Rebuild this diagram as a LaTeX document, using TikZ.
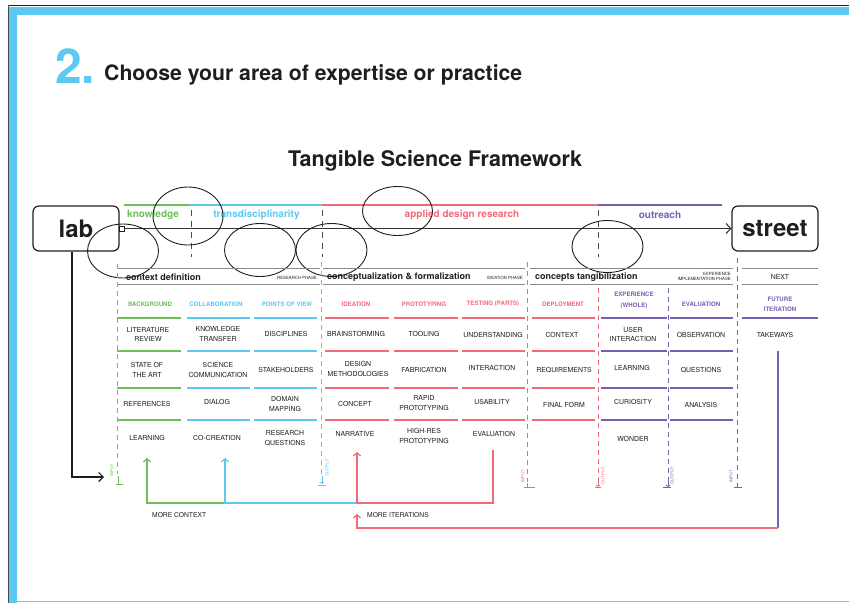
\documentclass[tikz,border=0pt]{standalone}
\usepackage{fontspec}
\setmainfont{TeX Gyre Heros}
\usetikzlibrary{arrows.meta}
\definecolor{cgreen}{HTML}{6EBE5A}
\definecolor{cblue}{HTML}{5AC8F0}
\definecolor{cred}{HTML}{F26A7A}
\definecolor{cpurple}{HTML}{785FB4}
\definecolor{fblue}{HTML}{5BC9F2}
\definecolor{ink}{HTML}{1E1E1E}
\definecolor{rule}{HTML}{8A8A8A}
\newcommand\tcell[4]{\node[cell] (#1) at (#2,#3) {#4};}
\newcommand\thdr[5]{\node[hdr,text=#5] (#1) at (#2,#3) {#4};}
\begin{document}
\begin{tikzpicture}[x=1pt,y=-1pt,
  cell/.style={font=\fontsize{6.9}{9.5}\selectfont, text=ink, align=center, inner sep=0},
  hdr/.style={font=\bfseries\fontsize{6.1}{10.5}\selectfont, align=center, inner sep=0},
  phase/.style={font=\bfseries\fontsize{9}{10}\selectfont, text=ink, inner sep=0, anchor=west},
  tiny/.style={font=\fontsize{4.3}{5.5}\selectfont, text=ink, inner sep=0, anchor=east, align=right},
  area/.style={font=\bfseries\fontsize{10}{12}\selectfont, inner sep=0},
  bigbox/.style={draw=ink, line width=1.2, rounded corners=6, minimum width=86, minimum height=45, font=\bfseries\fontsize{24}{26}\selectfont, text=ink, inner sep=0},
  circ/.style={draw=ink, line width=0.9},
  sep/.style={dash pattern=on 5pt off 4pt, line width=0.9},
  gsep/.style={draw=ink!80, dash pattern=on 6pt off 5pt, line width=0.8},
  prule/.style={draw=rule, line width=1.3},
  crule/.style={line width=1.2},
  loop/.style={line width=1.2},
  tipu/.style={-{Straight Barb[length=3pt,width=7pt]}},
  mlabel/.style={font=\fontsize{4.2}{4.5}\selectfont, inner sep=0, rotate=90},
  note/.style={font=\fontsize{6.7}{8}\selectfont, text=ink, inner sep=0, anchor=west}
]
\useasboundingbox (0,0) rectangle (849,603);
% frame
\fill[fblue] (9,6.5) rectangle (849,14.5);
\fill[fblue] (9,6.5) rectangle (16.5,603);
\draw[ink, line width=1] (8,5.5) -- (849,5.5);
\draw[ink!80, line width=0.8] (8.4,5) -- (8.4,603);
\draw[fblue, line width=1.6] (16,601.5) -- (849,601.5);

% headings
\node[font=\bfseries\fontsize{48}{48}\selectfont, text=fblue, inner sep=0, anchor=base west] (num) at (55,83) {2.};
\node[font=\bfseries\fontsize{21.2}{23}\selectfont, text=ink, inner sep=0, anchor=base west] (choose) at (104,80.5) {Choose your area of expertise or practice};
\node[font=\bfseries\fontsize{21.5}{23}\selectfont, text=ink, inner sep=0, anchor=base] (title) at (435,166) {Tangible Science Framework};

% lab / street
\node[bigbox] (lab) at (76,228.5) {lab};
\node[bigbox] (street) at (775,228.5) {street};
\node[draw=ink, line width=0.9, minimum size=5, inner sep=0] (sq) at (121.5,228.5) {};
\draw[ink!90, line width=1.1, -{Straight Barb[length=4.5pt,width=10pt]}] (sq.east) -- (street.west);

% area lines and labels
\draw[cgreen, line width=1.3] (124,205) -- (190,205);
\draw[cblue, line width=1.3] (190,205) -- (322,205);
\draw[cred, line width=1.3] (322,205) -- (598,205);
\draw[cpurple, line width=1.3] (598,205) -- (722,205);
\node[area, text=cgreen, anchor=west] (knw) at (127,215) {knowledge};
\node[area, text=cblue] (trd) at (256.5,215) {transdisciplinarity};
\node[area, text=cred] (adr) at (462,215) {applied design research};
\node[area, text=cpurple] (out) at (660,215) {outreach};
\draw[gsep] (191,210) -- (191,257);
\draw[gsep] (322,210) -- (322,257);
\draw[gsep] (598,210) -- (598,257);

% ellipses
\draw[circ] (188,216) ellipse [x radius=35, y radius=29];
\draw[circ] (123,251) ellipse [x radius=35.5, y radius=27];
\draw[circ] (260,250) ellipse [x radius=35.5, y radius=26.5];
\draw[circ] (331.5,250) ellipse [x radius=35.5, y radius=26.5];
\draw[circ] (397.5,211) ellipse [x radius=35, y radius=24.5];
\draw[circ] (607.5,246.5) ellipse [x radius=35.5, y radius=26];

% phase header rules
\foreach \a/\b in {117/320, 323/525, 530/733, 742/818}{
  \draw[prule] (\a,268.5) -- (\b,268.5);
  \draw[prule] (\a,284.5) -- (\b,284.5);
}
\node[phase] (p1) at (126,277) {context definition};
\node[tiny] (p1t) at (317,277.5) {RESEARCH PHASE};
\node[phase] (p2) at (327,277) {conceptualization \& formalization};
\node[tiny] (p2t) at (523,277.5) {IDEATION PHASE};
\node[phase] (p3) at (535,277) {concepts tangibilization};
\node[tiny] (p3t) at (731,276.5) {EXPERIENCE\\IMPLEMENTATION PHASE};
\node[cell] (p4) at (780,277) {NEXT};

% column rules
\foreach \y in {318,351,388,420}{
  \draw[cgreen,crule] (117,\y) -- (181,\y);
  \draw[cblue,crule] (187,\y) -- (250,\y);
  \draw[cblue,crule] (254,\y) -- (317,\y);
  \draw[cred,crule] (325,\y) -- (389,\y);
  \draw[cred,crule] (394,\y) -- (458,\y);
  \draw[cred,crule] (462,\y) -- (525,\y);
  \draw[cred,crule] (532,\y) -- (595,\y);
  \draw[cpurple,crule] (601,\y) -- (667,\y);
  \draw[cpurple,crule] (670,\y) -- (733,\y);
}
\draw[cpurple,crule] (742,318) -- (818,318);

% dashed separators
\draw[cgreen,sep] (117,264) -- (117,474);
\draw[cblue,sep] (321,262) -- (321,474);
\draw[cred,sep] (527,262) -- (527,482);
\draw[cred,sep] (598,288) -- (598,482);
\draw[cpurple,sep] (668,288) -- (668,482);
\draw[cpurple,sep] (737,258) -- (737,482);

% input / output markers
\draw[cgreen, line width=0.8] (118,476) -- (118,484) (116,484) -- (123,484);
\node[mlabel, text=cgreen] (in1) at (112,470) {INPUT};
\draw[cblue, line width=0.8, -{Straight Barb[length=1.5pt,width=4pt]}] (322,476) -- (322,484);
\draw[cblue, line width=0.8] (318,485) -- (326,485);
\node[mlabel, text=cblue] (out1) at (327,468) {OUTPUT};
\draw[cred, line width=0.8] (527,483) -- (527,487) (524,487) -- (535,487);
\node[mlabel, text=cred] (in2) at (523,476) {INPUT};
\draw[cred, line width=0.8, -{Straight Barb[length=1.5pt,width=4pt]}] (598,482) -- (598,487);
\draw[cred, line width=0.8] (595,487.5) -- (601,487.5);
\node[mlabel, text=cred] (out2) at (603,476) {OUTPUT};
\draw[cpurple, line width=0.8, -{Straight Barb[length=1.5pt,width=4pt]}] (668,482) -- (668,487);
\draw[cpurple, line width=0.8] (663,487.5) -- (671,487.5);
\node[mlabel, text=cpurple] (out3) at (672,476) {OUTPUT};
\draw[cpurple, line width=0.8] (737,483) -- (737,487) (734,487) -- (742,487);
\node[mlabel, text=cpurple] (in3) at (731,476) {INPUT};

% section 1
\thdr{h11}{150}{304}{BACKGROUND}{cgreen}
\thdr{h12}{216}{304}{COLLABORATION}{cblue}
\thdr{h13}{287}{304}{POINTS OF VIEW}{cblue}
\tcell{c111}{148}{334.5}{LITERATURE\\REVIEW}
\tcell{c121}{218}{334}{KNOWLEDGE\\TRANSFER}
\tcell{c131}{286}{334}{DISCIPLINES}
\tcell{c112}{147}{370}{STATE OF\\THE ART}
\tcell{c122}{218}{370}{SCIENCE\\COMMUNICATION}
\tcell{c132}{286}{370}{STAKEHOLDERS}
\tcell{c113}{147}{404}{REFERENCES}
\tcell{c123}{217}{402}{DIALOG}
\tcell{c133}{285}{404}{DOMAIN\\MAPPING}
\tcell{c114}{147}{438}{LEARNING}
\tcell{c124}{217}{438}{CO-CREATION}
\tcell{c134}{285}{438}{RESEARCH\\QUESTIONS}

% section 2
\thdr{h21}{356}{304}{IDEATION}{cred}
\thdr{h22}{424}{304}{PROTOTYPING}{cred}
\thdr{h23}{493}{304}{TESTING (PARTS)}{cred}
\tcell{c211}{356}{334}{BRAINSTORMING}
\tcell{c221}{424}{334}{TOOLING}
\tcell{c231}{493}{335}{UNDERSTANDING}
\tcell{c212}{358}{369}{DESIGN\\METHODOLOGIES}
\tcell{c222}{424}{370}{FABRICATION}
\tcell{c232}{492}{368}{INTERACTION}
\tcell{c213}{355}{404}{CONCEPT}
\tcell{c223}{424}{403}{RAPID\\PROTOTYPING}
\tcell{c233}{492}{402}{USABILITY}
\tcell{c214}{355}{434}{NARRATIVE}
\tcell{c224}{424}{436}{HIGH-RES\\PROTOTYPING}
\tcell{c234}{494}{434}{EVALUATION}

% section 3
\thdr{h31}{563}{304}{DEPLOYMENT}{cred}
\thdr{h32}{634}{300.5}{EXPERIENCE\\(WHOLE)}{cpurple}
\thdr{h33}{701}{304}{EVALUATION}{cpurple}
\tcell{c311}{562}{335}{CONTEXT}
\tcell{c321}{633}{334.5}{USER\\INTERACTION}
\tcell{c331}{701}{335}{OBSERVATION}
\tcell{c312}{564}{370}{REQUIREMENTS}
\tcell{c322}{632}{368}{LEARNING}
\tcell{c332}{701}{370}{QUESTIONS}
\tcell{c313}{564}{405}{FINAL FORM}
\tcell{c323}{633}{402}{CURIOSITY}
\tcell{c333}{701}{405}{ANALYSIS}
\tcell{c324}{633}{439}{WONDER}

% next
\thdr{h41}{780}{304.5}{FUTURE\\ITERATION}{cpurple}
\tcell{c411}{775}{335}{TAKEWAYS}

% lab feedback
\coordinate (labin) at (104,477);
\draw[ink, line width=1.2, -{Straight Barb[length=4.5pt,width=9pt]}] ([xshift=-4pt]lab.south) |- (labin);

% loops
\coordinate (gtip) at (147,458);
\coordinate (btip) at (225,458);
\coordinate (rtip) at (357,452);
\coordinate (rstart) at (493,450);
\coordinate (r2tip) at (357,514);
\coordinate (ptop) at (778,351);
\coordinate (pbot) at (778,528);
\draw[cgreen, loop, tipu] (225,503) -- (147,503) -- (gtip);
\draw[cblue, loop, tipu] (357,503) -- (225,503) -- (btip);
\draw[cred, loop, tipu] (rstart) -- (493,503) -- (357,503) -- (rtip);
\draw[cpurple, loop] (ptop) -- (pbot);
\draw[cred, loop, tipu] (pbot) -- (357,528) -- (r2tip);
\node[note] (mc) at (152,515) {MORE CONTEXT};
\node[note] (mi) at (367,515) {MORE ITERATIONS};
\end{tikzpicture}
\end{document}
